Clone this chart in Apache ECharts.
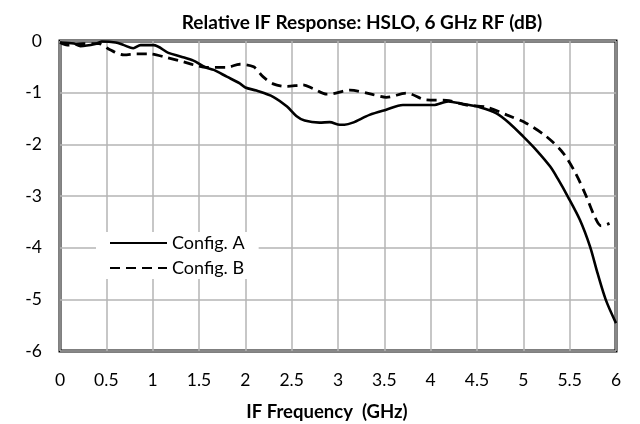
<!DOCTYPE html>
<html>
<head>
<meta charset="utf-8">
<script src="https://cdn.jsdelivr.net/npm/echarts@6/dist/echarts.min.js"></script>
<style>
  html, body { margin: 0; padding: 0; background: #fff; }
  #chart { width: 640px; height: 424px; }
</style>
</head>
<body>
<div id="chart"></div>
<script>
// IF frequency (GHz) and relative response (dB)
var freqA = [0, 0.15, 0.22, 0.38, 0.45, 0.6, 0.69, 0.79, 0.87, 1.01, 1.17, 1.3, 1.44, 1.57, 1.66, 1.8, 1.94, 2.0, 2.12, 2.3, 2.45, 2.55, 2.64, 2.8, 2.91, 3.02, 3.07, 3.16, 3.34, 3.52, 3.7, 3.88, 4.03, 4.19, 4.35, 4.53, 4.71, 4.85, 5.0, 5.14, 5.29, 5.37, 5.48, 5.61, 5.72, 5.8, 5.89, 6.0];
var respA = [-0.03, -0.05, -0.1, -0.06, -0.01, -0.03, -0.08, -0.14, -0.08, -0.08, -0.23, -0.3, -0.38, -0.51, -0.56, -0.69, -0.82, -0.9, -0.96, -1.08, -1.27, -1.45, -1.54, -1.58, -1.57, -1.62, -1.62, -1.58, -1.43, -1.33, -1.24, -1.24, -1.24, -1.17, -1.22, -1.28, -1.4, -1.59, -1.85, -2.11, -2.43, -2.66, -3.01, -3.46, -3.98, -4.49, -5.01, -5.46];

var freqB = [0, 0.08, 0.25, 0.42, 0.54, 0.69, 0.83, 0.97, 1.15, 1.33, 1.44, 1.58, 1.8, 1.94, 2.09, 2.19, 2.3, 2.45, 2.62, 2.73, 2.88, 2.95, 3.13, 3.38, 3.52, 3.74, 3.95, 4.17, 4.39, 4.6, 4.82, 5.03, 5.25, 5.43, 5.57, 5.68, 5.77, 5.84, 5.93];
var respB = [-0.03, -0.08, -0.05, -0.05, -0.17, -0.27, -0.25, -0.25, -0.32, -0.4, -0.46, -0.51, -0.51, -0.45, -0.5, -0.69, -0.83, -0.88, -0.85, -0.92, -1.03, -1.02, -0.95, -1.04, -1.09, -1.01, -1.14, -1.15, -1.24, -1.28, -1.43, -1.59, -1.85, -2.17, -2.58, -3.01, -3.4, -3.58, -3.53];

var seriesNames = ['Config. A', 'Config. B'];

function pairs(xs, ys) {
  return xs.map(function (x, i) { return [x, ys[i]]; });
}

var chart = echarts.init(document.getElementById('chart'), null, { renderer: 'canvas' });
var font = 'Lato, "Open Sans", sans-serif';

var option = {
  animation: false,
  backgroundColor: '#fff',
  title: {
    text: 'Relative IF Response: HSLO, 6 GHz RF (dB)',
    left: 357,
    textAlign: 'center',
    top: 8,
    textStyle: { fontFamily: font, fontSize: 19, fontWeight: 'bold', color: '#000' }
  },
  legend: {
    left: 96,
    top: 232,
    orient: 'vertical',
    itemWidth: 57,
    itemHeight: 14,
    itemGap: 7,
    padding: [2, 14, 2, 13],
    backgroundColor: '#fff',
    itemStyle: { opacity: 0 },
    textStyle: { fontFamily: font, fontSize: 18, color: '#000' },
    data: seriesNames
  },
  grid: {
    left: 60,
    right: 24,
    top: 41,
    bottom: 73,
    outerBoundsMode: 'none',
    show: true,
    borderColor: '#000',
    borderWidth: 3
  },
  xAxis: {
    type: 'value',
    min: 0,
    max: 6,
    interval: 0.5,
    name: 'IF Frequency  (GHz)',
    nameLocation: 'middle',
    nameGap: 52,
    nameTextStyle: { fontFamily: font, fontSize: 18.5, fontWeight: 'bold', color: '#000', padding: [0, 22, 0, 0] },
    axisLine: { show: false },
    axisTick: { show: false },
    axisLabel: { fontFamily: font, fontSize: 17.5, color: '#000', margin: 20 },
    splitLine: { show: true, lineStyle: { color: '#b4b4b4', width: 1.5 } }
  },
  yAxis: {
    type: 'value',
    min: -6,
    max: 0,
    interval: 1,
    axisLine: { show: false },
    axisTick: { show: false },
    axisLabel: { fontFamily: font, fontSize: 17.5, color: '#000', margin: 18 },
    splitLine: { show: true, lineStyle: { color: '#b4b4b4', width: 1.5 } }
  },
  series: [
    {
      name: seriesNames[0],
      type: 'line',
      smooth: 0.3,
      showSymbol: false,
      symbol: 'none',
      lineStyle: { color: '#000', width: 2.6, type: 'solid' },
      itemStyle: { color: '#000' },
      data: pairs(freqA, respA)
    },
    {
      name: seriesNames[1],
      type: 'line',
      smooth: 0.3,
      showSymbol: false,
      symbol: 'none',
      lineStyle: { color: '#000', width: 2.8, type: [10, 6] },
      itemStyle: { color: '#000' },
      data: pairs(freqB, respB)
    }
  ]
};
chart.setOption(option);
</script>
</body>
</html>
